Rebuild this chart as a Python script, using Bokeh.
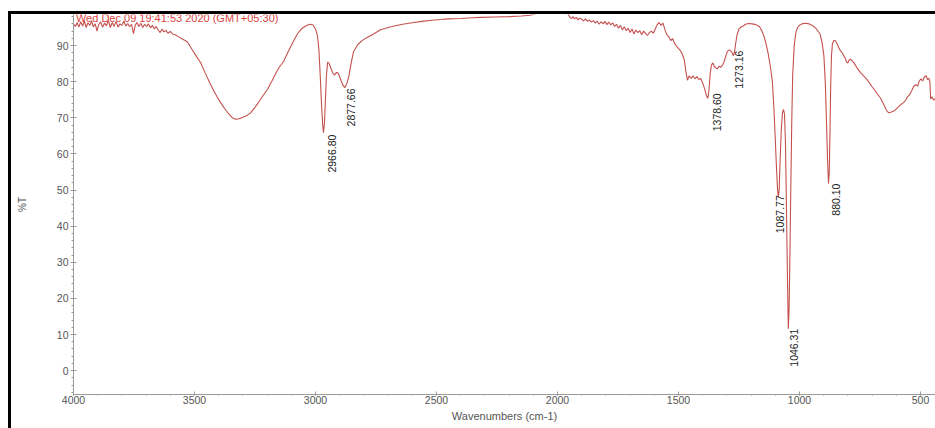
import math
from bokeh.plotting import figure
from bokeh.models import Range1d, FixedTicker, ColumnDataSource, Label
from bokeh.core.properties import value
from bokeh.embed import file_html
from bokeh.resources import INLINE

# ---------------- data ----------------
wavenumber = [
    4000, 3992, 3985, 3978, 3970, 3962, 3955, 3948, 3940, 3932, 3925, 3918, 3910, 3903, 3896, 3888,
    3880, 3872, 3864, 3856, 3848, 3840, 3832, 3824, 3816, 3808, 3800, 3792, 3784, 3776, 3768, 3760,
    3752, 3745, 3738, 3730, 3722, 3714, 3706, 3698, 3690, 3682, 3674, 3666, 3658, 3650, 3642, 3634,
    3626, 3618, 3610, 3600, 3590, 3580, 3565, 3550, 3529, 3510, 3490, 3475, 3455, 3435, 3420, 3405,
    3390, 3375, 3360, 3345, 3335, 3325, 3310, 3295, 3280, 3269, 3250, 3230, 3215, 3198, 3180, 3165,
    3150, 3132, 3115, 3100, 3091, 3075, 3060, 3050, 3035, 3021, 3010, 3000, 2992, 2986, 2980, 2975,
    2970, 2967, 2963, 2959, 2955, 2950, 2945, 2938, 2930, 2922, 2913, 2905, 2895, 2885, 2878, 2870,
    2862, 2853, 2843, 2825, 2805, 2785, 2760, 2731, 2700, 2670, 2640, 2600, 2560, 2520, 2480, 2455,
    2400, 2350, 2318, 2260, 2200, 2150, 2112, 2080, 2050, 2010, 1980, 1958, 1948, 1942, 1936, 1930,
    1922, 1915, 1908, 1900, 1892, 1884, 1876, 1868, 1860, 1852, 1844, 1836, 1828, 1820, 1812, 1804,
    1796, 1788, 1780, 1772, 1764, 1756, 1748, 1740, 1732, 1724, 1716, 1708, 1700, 1692, 1684, 1676,
    1668, 1660, 1652, 1644, 1636, 1628, 1620, 1612, 1604, 1596, 1588, 1580, 1572, 1564, 1556, 1548,
    1540, 1532, 1524, 1516, 1508, 1500, 1492, 1484, 1476, 1470, 1463, 1456, 1448, 1440, 1432, 1424,
    1416, 1408, 1400, 1392, 1385, 1379, 1374, 1369, 1364, 1358, 1352, 1345, 1339, 1332, 1325, 1318,
    1311, 1304, 1298, 1290, 1282, 1277, 1273, 1269, 1264, 1258, 1250, 1240, 1231, 1223, 1210, 1195,
    1180, 1165, 1155, 1149, 1140, 1130, 1120, 1112, 1106, 1100, 1095, 1091, 1087.8, 1084, 1080, 1075,
    1070, 1066, 1062, 1058, 1054, 1050, 1046.3, 1043, 1040, 1036, 1032, 1028, 1022, 1015, 1008, 1000,
    990, 975, 960, 945, 930, 915, 906, 899, 893, 888, 884, 880.1, 877, 874, 871, 868,
    864, 858, 851, 843, 833, 822, 812, 805, 800, 795, 788, 775, 760, 748, 735, 720,
    700, 680, 665, 650, 640, 632, 620, 607, 595, 582, 570, 560, 554, 545, 537, 529,
    520, 512, 505, 498, 491, 484, 477, 471, 465, 461, 458, 452, 446, 440, 438,
]
transmittance = [
    96.0, 95.3, 96.4, 95.1, 96.6, 95.4, 96.9, 95.0, 96.3, 95.6, 96.8, 95.2, 96.0, 94.0, 95.8, 96.6,
    95.1, 96.2, 95.5, 97.0, 95.0, 96.4, 95.3, 96.7, 95.1, 96.0, 95.6, 96.8, 95.4, 96.1, 95.2, 95.9,
    93.3, 95.6, 96.4, 95.3, 96.2, 95.0, 95.9, 95.2, 96.0, 94.9, 95.6, 94.6, 95.3, 94.3, 93.6, 94.6,
    93.8, 94.2, 93.4, 93.9, 93.2, 93.0, 92.4, 91.8, 91.0, 88.9, 86.8, 85.3, 82.3, 79.4, 77.4, 75.6,
    74.0, 72.5, 71.2, 70.1, 69.7, 69.6, 69.9, 70.3, 70.8, 71.3, 72.9, 74.8, 76.3, 77.9, 80.2, 82.2,
    84.0, 85.6, 88.0, 90.0, 91.2, 93.2, 94.5, 95.0, 95.6, 95.9, 95.7, 94.6, 92.8, 89.0, 81.0, 73.5,
    67.8, 65.9, 68.5, 75.0, 81.5, 85.4, 85.2, 84.0, 82.6, 81.8, 82.6, 82.2, 80.4, 78.8, 78.4, 79.6,
    81.6, 85.0, 88.3, 90.3, 91.5, 92.3, 93.2, 94.4, 95.0, 95.5, 95.9, 96.3, 96.7, 97.0, 97.2, 97.4,
    97.5, 97.7, 97.8, 97.9, 98.0, 98.2, 98.4, 99.0, 99.4, 99.5, 99.3, 98.9, 97.8, 97.5, 98.0, 97.4,
    97.8, 97.1, 97.6, 97.3, 96.8, 97.4, 96.7, 97.1, 96.5, 96.9, 96.2, 96.8, 95.9, 96.6, 96.0, 96.7,
    95.8, 96.5, 95.7, 96.3, 95.3, 95.9, 94.8, 95.6, 94.3, 95.2, 94.1, 94.8, 93.6, 94.6, 93.2, 94.3,
    93.6, 94.1, 93.0, 94.0, 93.3, 92.8, 93.6, 94.0, 93.4, 94.6, 95.8, 96.4, 95.6, 96.2, 94.4, 93.0,
    92.4, 91.4, 91.9, 90.6, 89.8, 89.2, 88.6, 87.6, 86.0, 83.0, 80.4, 81.6, 80.9, 81.6, 80.8, 81.4,
    80.6, 80.9, 79.6, 78.0, 76.2, 75.4, 77.6, 82.2, 84.6, 85.2, 84.2, 83.8, 83.6, 84.3, 84.0, 84.6,
    85.6, 87.2, 88.4, 88.8, 88.4, 87.8, 87.2, 88.0, 90.5, 93.0, 94.6, 95.2, 95.5, 95.9, 96.1, 96.0,
    95.8, 95.2, 94.0, 93.0, 91.0, 88.0, 84.0, 80.0, 73.0, 64.0, 56.0, 50.5, 48.0, 50.0, 58.5, 67.0,
    71.5, 72.3, 71.0, 63.0, 46.0, 27.0, 11.6, 17.0, 30.0, 50.0, 69.0, 82.0, 90.0, 93.6, 95.0, 95.6,
    96.0, 96.2, 96.0, 95.5, 94.6, 93.2, 90.6, 87.0, 79.0, 68.0, 58.0, 51.8, 55.0, 66.0, 79.0, 87.0,
    90.5, 91.4, 91.3, 90.2, 88.8, 87.8, 86.6, 85.4, 85.2, 86.0, 86.2, 85.2, 83.6, 82.5, 81.6, 80.5,
    78.6, 76.8, 75.4, 73.4, 72.0, 71.4, 71.6, 72.0, 72.8, 73.6, 74.2, 75.0, 75.8, 76.4, 77.4, 78.6,
    79.2, 78.8, 80.2, 80.8, 80.2, 81.3, 81.7, 80.6, 80.9, 79.8, 75.2, 75.8, 74.9, 75.3, 75.0,
]

peak_text = ["2966.80", "2877.66", "1378.60", "1273.16", "1087.77", "1046.31", "880.10"]
peak_x = [2966.80, 2877.66, 1378.60, 1273.16, 1087.77, 1046.31, 880.10]
peak_y = [65.9, 78.4, 75.4, 87.2, 48.0, 11.6, 51.8]

x_ticks = [4000, 3500, 3000, 2500, 2000, 1500, 1000, 500]
y_ticks = [0, 10, 20, 30, 40, 50, 60, 70, 80, 90]

title_text = "Wed Dec 09 19:41:53 2020 (GMT+05:30)"

# ---------------- styles ----------------
label_dx = [8, 6, 9, 6, 2, 6, 7]      # screen px
label_dy = [2, 1, -5, -5, -2, 0, 0]   # screen px (down is positive)

FONT = "Liberation Sans"
LINE_COLOR = "#c4514e"
AXIS_COLOR = "#9a9a9a"
TEXT_GRAY = "#555555"

p = figure(
    width=935, height=428,
    x_range=Range1d(4000, 438), y_range=Range1d(-6.6, 98.6),
    output_backend="svg", toolbar_location=None, tools="",
    min_border_left=73, min_border_right=0, min_border_top=14, min_border_bottom=34,
)
p.border_fill_color = None
p.background_fill_color = None
p.outline_line_color = None
p.grid.visible = False
p.styles = {
    "background-image": "linear-gradient(#000,#000), linear-gradient(#000,#000)",
    "background-size": "100% 3px, 3px 100%",
    "background-position": "8px 11px, 8px 11px",
    "background-repeat": "no-repeat",
    "background-color": "white",
}

src = ColumnDataSource(dict(x=wavenumber, y=transmittance))
p.line("x", "y", source=src, line_color=LINE_COLOR, line_width=1.1)

lsrc = ColumnDataSource(dict(x=peak_x, y=peak_y, t=peak_text, dx=label_dx, dy=label_dy))
p.text("x", "y", text="t", source=lsrc, angle=math.pi / 2, text_align="right",
       text_baseline="middle", x_offset="dx", y_offset="dy",
       text_font=value(FONT), text_font_size="10.5px", text_color="#222222")

# axes
xa = p.xaxis[0]
xa.ticker = FixedTicker(ticks=x_ticks, minor_ticks=list(range(500, 4001, 100)))
ya = p.yaxis[0]
ya.ticker = FixedTicker(ticks=y_ticks, minor_ticks=list(range(-6, 99, 2)))
for ax in (xa, ya):
    ax.axis_line_color = AXIS_COLOR
    ax.major_tick_line_color = AXIS_COLOR
    ax.minor_tick_line_color = AXIS_COLOR
    ax.major_tick_in = 3
    ax.major_tick_out = 3
    ax.minor_tick_in = 0
    ax.minor_tick_out = 2
    ax.major_label_text_font = FONT
    ax.major_label_text_font_size = "10.5px"
    ax.major_label_text_color = TEXT_GRAY
    ax.axis_label_text_font = FONT
    ax.axis_label_text_font_size = "11px"
    ax.axis_label_text_color = TEXT_GRAY
    ax.axis_label_text_font_style = "normal"
xa.major_tick_out = 1
xa.minor_tick_out = 1
xa.major_label_standoff = 0
xa.axis_label = "Wavenumbers (cm-1)"
xa.axis_label_standoff = 3
ya.major_label_standoff = 2
ya.axis_label = "%T"
ya.axis_label_standoff = 26
ya.axis_label_text_font_size = "10px"

p.add_layout(Label(x=3990, y=97.65, text=title_text, text_color="#d9443f",
                   text_font=FONT, text_font_size="11px", text_baseline="middle"))

open("out.html", "w").write(file_html(p, INLINE))
